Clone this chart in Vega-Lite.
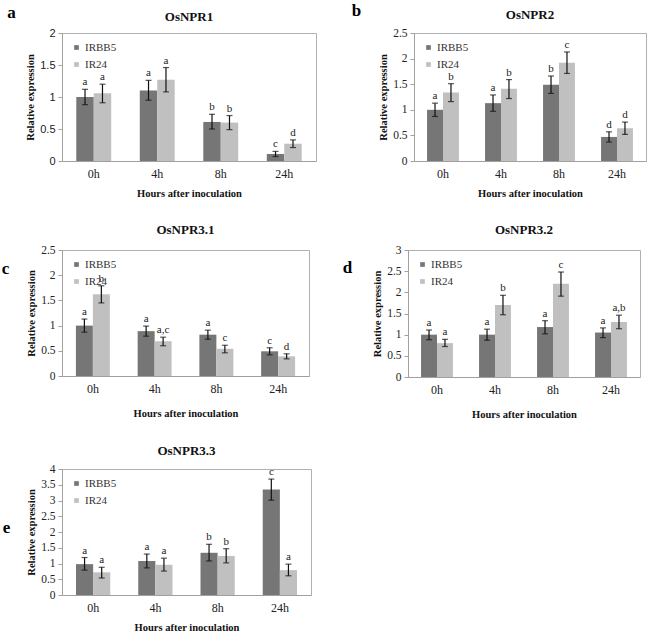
{
  "$schema": "https://vega.github.io/schema/vega-lite/v6.json",
  "padding": {"left": 0, "top": 0, "right": 0, "bottom": 0},
  "background": "white",
  "data": {"values": [
    {"gene": "OsNPR1", "hour": "0h", "cultivar": "IRBB5", "value": 1.00, "lo": 0.88, "hi": 1.12, "sig": "a"},
    {"gene": "OsNPR1", "hour": "0h", "cultivar": "IR24", "value": 1.06, "lo": 0.91, "hi": 1.20, "sig": "a"},
    {"gene": "OsNPR1", "hour": "4h", "cultivar": "IRBB5", "value": 1.10, "lo": 0.95, "hi": 1.26, "sig": "a"},
    {"gene": "OsNPR1", "hour": "4h", "cultivar": "IR24", "value": 1.27, "lo": 1.08, "hi": 1.46, "sig": "a"},
    {"gene": "OsNPR1", "hour": "8h", "cultivar": "IRBB5", "value": 0.61, "lo": 0.50, "hi": 0.73, "sig": "b"},
    {"gene": "OsNPR1", "hour": "8h", "cultivar": "IR24", "value": 0.60, "lo": 0.49, "hi": 0.71, "sig": "b"},
    {"gene": "OsNPR1", "hour": "24h", "cultivar": "IRBB5", "value": 0.11, "lo": 0.07, "hi": 0.15, "sig": "c"},
    {"gene": "OsNPR1", "hour": "24h", "cultivar": "IR24", "value": 0.27, "lo": 0.21, "hi": 0.33, "sig": "d"},
    {"gene": "OsNPR2", "hour": "0h", "cultivar": "IRBB5", "value": 1.00, "lo": 0.87, "hi": 1.13, "sig": "a"},
    {"gene": "OsNPR2", "hour": "0h", "cultivar": "IR24", "value": 1.34, "lo": 1.16, "hi": 1.51, "sig": "b"},
    {"gene": "OsNPR2", "hour": "4h", "cultivar": "IRBB5", "value": 1.13, "lo": 0.97, "hi": 1.29, "sig": "a"},
    {"gene": "OsNPR2", "hour": "4h", "cultivar": "IR24", "value": 1.41, "lo": 1.22, "hi": 1.59, "sig": "b"},
    {"gene": "OsNPR2", "hour": "8h", "cultivar": "IRBB5", "value": 1.49, "lo": 1.32, "hi": 1.66, "sig": "b"},
    {"gene": "OsNPR2", "hour": "8h", "cultivar": "IR24", "value": 1.92, "lo": 1.71, "hi": 2.13, "sig": "c"},
    {"gene": "OsNPR2", "hour": "24h", "cultivar": "IRBB5", "value": 0.47, "lo": 0.37, "hi": 0.57, "sig": "d"},
    {"gene": "OsNPR2", "hour": "24h", "cultivar": "IR24", "value": 0.64, "lo": 0.52, "hi": 0.76, "sig": "d"},
    {"gene": "OsNPR3.1", "hour": "0h", "cultivar": "IRBB5", "value": 1.00, "lo": 0.87, "hi": 1.13, "sig": "a"},
    {"gene": "OsNPR3.1", "hour": "0h", "cultivar": "IR24", "value": 1.62, "lo": 1.45, "hi": 1.79, "sig": "b"},
    {"gene": "OsNPR3.1", "hour": "4h", "cultivar": "IRBB5", "value": 0.89, "lo": 0.79, "hi": 0.99, "sig": "a"},
    {"gene": "OsNPR3.1", "hour": "4h", "cultivar": "IR24", "value": 0.69, "lo": 0.60, "hi": 0.77, "sig": "a,c"},
    {"gene": "OsNPR3.1", "hour": "8h", "cultivar": "IRBB5", "value": 0.82, "lo": 0.73, "hi": 0.91, "sig": "a"},
    {"gene": "OsNPR3.1", "hour": "8h", "cultivar": "IR24", "value": 0.54, "lo": 0.46, "hi": 0.61, "sig": "c"},
    {"gene": "OsNPR3.1", "hour": "24h", "cultivar": "IRBB5", "value": 0.49, "lo": 0.42, "hi": 0.56, "sig": "c"},
    {"gene": "OsNPR3.1", "hour": "24h", "cultivar": "IR24", "value": 0.39, "lo": 0.34, "hi": 0.44, "sig": "d"},
    {"gene": "OsNPR3.2", "hour": "0h", "cultivar": "IRBB5", "value": 1.00, "lo": 0.88, "hi": 1.11, "sig": "a"},
    {"gene": "OsNPR3.2", "hour": "0h", "cultivar": "IR24", "value": 0.80, "lo": 0.72, "hi": 0.89, "sig": "a"},
    {"gene": "OsNPR3.2", "hour": "4h", "cultivar": "IRBB5", "value": 1.00, "lo": 0.87, "hi": 1.13, "sig": "a"},
    {"gene": "OsNPR3.2", "hour": "4h", "cultivar": "IR24", "value": 1.70, "lo": 1.47, "hi": 1.93, "sig": "b"},
    {"gene": "OsNPR3.2", "hour": "8h", "cultivar": "IRBB5", "value": 1.18, "lo": 1.02, "hi": 1.33, "sig": "a"},
    {"gene": "OsNPR3.2", "hour": "8h", "cultivar": "IR24", "value": 2.20, "lo": 1.91, "hi": 2.48, "sig": "c"},
    {"gene": "OsNPR3.2", "hour": "24h", "cultivar": "IRBB5", "value": 1.05, "lo": 0.93, "hi": 1.16, "sig": "a"},
    {"gene": "OsNPR3.2", "hour": "24h", "cultivar": "IR24", "value": 1.30, "lo": 1.14, "hi": 1.46, "sig": "a,b"},
    {"gene": "OsNPR3.3", "hour": "0h", "cultivar": "IRBB5", "value": 0.98, "lo": 0.79, "hi": 1.19, "sig": "a"},
    {"gene": "OsNPR3.3", "hour": "0h", "cultivar": "IR24", "value": 0.72, "lo": 0.54, "hi": 0.88, "sig": "a"},
    {"gene": "OsNPR3.3", "hour": "4h", "cultivar": "IRBB5", "value": 1.08, "lo": 0.86, "hi": 1.30, "sig": "a"},
    {"gene": "OsNPR3.3", "hour": "4h", "cultivar": "IR24", "value": 0.96, "lo": 0.76, "hi": 1.17, "sig": "a"},
    {"gene": "OsNPR3.3", "hour": "8h", "cultivar": "IRBB5", "value": 1.34, "lo": 1.08, "hi": 1.61, "sig": "b"},
    {"gene": "OsNPR3.3", "hour": "8h", "cultivar": "IR24", "value": 1.24, "lo": 1.02, "hi": 1.47, "sig": "b"},
    {"gene": "OsNPR3.3", "hour": "24h", "cultivar": "IRBB5", "value": 3.35, "lo": 3.01, "hi": 3.68, "sig": "c"},
    {"gene": "OsNPR3.3", "hour": "24h", "cultivar": "IR24", "value": 0.79, "lo": 0.61, "hi": 0.98, "sig": "a"}
  ]},
  "config": {
    "font": "Liberation Serif",
    "view": {"stroke": "#b0b0b0", "strokeWidth": 1},
    "axis": {"labelFont": "Liberation Serif", "titleFont": "Liberation Serif", "grid": false, "domainColor": "#a0a0a0", "tickColor": "#a0a0a0", "labelColor": "#222222", "titleColor": "#111111"},
    "axisY": {"tickSize": 4, "labelFontSize": 11.5, "labelPadding": 3, "titleFontSize": 10.5, "titleFontWeight": "bold", "titlePadding": 4},
    "axisX": {"ticks": false, "labelFontSize": 12, "labelPadding": 7, "labelAngle": 0, "titleFontSize": 10.5, "titleFontWeight": "bold", "titlePadding": 9},
    "legend": {"orient": "top-left", "offset": 7, "padding": 2, "symbolType": "square", "symbolSize": 22, "symbolStrokeWidth": 0, "labelFont": "Liberation Serif", "labelFontSize": 11, "labelColor": "#333333", "rowPadding": 5, "labelOffset": 3},
    "title": {"font": "Liberation Serif", "fontSize": 13, "fontWeight": "bold", "color": "#111111", "anchor": "middle", "offset": 7},
    "text": {"font": "Liberation Serif"}
  },
  "columns": 1,
  "align": "none",
  "spacing": 24,
  "resolve": {"scale": {"x": "independent", "y": "independent", "color": "independent", "xOffset": "independent"}, "legend": {"color": "independent"}},
  "concat": [
    {
      "bounds": "flush",
      "spacing": 98,
      "resolve": {"scale": {"x": "independent", "y": "independent", "color": "independent", "xOffset": "independent"}, "legend": {"color": "independent"}},
      "hconcat": [
        {
          "width": 254, "height": 128,
          "title": {"text": "OsNPR1", "dy": 27, "offset": 6},
          "transform": [{"filter": "datum.gene === 'OsNPR1'"}],
          "encoding": {
            "x": {"field": "hour", "type": "nominal", "sort": ["0h", "4h", "8h", "24h"], "scale": {"paddingInner": 0.45, "paddingOuter": 0.225}, "axis": {"title": "Hours after inoculation"}},
            "xOffset": {"field": "cultivar", "type": "nominal", "sort": ["IRBB5", "IR24"], "scale": {"paddingInner": 0, "paddingOuter": 0}}
          },
          "layer": [
            {"mark": "bar", "encoding": {
              "y": {"field": "value", "type": "quantitative", "scale": {"domain": [0, 2], "nice": false}, "axis": {"values": [0, 0.5, 1, 1.5, 2], "format": "~g", "title": "Relative expression", "labelFont": "Liberation Sans", "labelFontSize": 11}},
              "color": {"field": "cultivar", "type": "nominal", "scale": {"domain": ["IRBB5", "IR24"], "range": ["#767676", "#c0c0c0"]}, "legend": {"title": null}}
            }},
            {"mark": {"type": "rule", "color": "#111111", "strokeWidth": 1.2}, "encoding": {
              "y": {"field": "lo", "type": "quantitative", "axis": {"orient": "left", "title": "a", "labels": false, "ticks": false, "domain": false, "titleAngle": 0, "titleX": -51, "titleY": -21, "titleFontSize": 17, "titleFontWeight": "bold", "titleAlign": "center", "titleBaseline": "middle", "titleColor": "#000000"}},
              "y2": {"field": "hi"}
            }},
            {"mark": {"type": "tick", "color": "#111111", "size": 6, "thickness": 1.2}, "encoding": {"y": {"field": "hi", "type": "quantitative", "axis": null}}},
            {"mark": {"type": "tick", "color": "#111111", "size": 6, "thickness": 1.2}, "encoding": {"y": {"field": "lo", "type": "quantitative", "axis": null}}},
            {"mark": {"type": "text", "baseline": "bottom", "dy": -2, "fontSize": 11, "color": "#222222"}, "encoding": {"y": {"field": "hi", "type": "quantitative", "axis": null}, "text": {"field": "sig"}}}
          ],
          "resolve": {"axis": {"y": "independent"}}
        },
        {
          "width": 232, "height": 128,
          "title": {"text": "OsNPR2", "dy": 27, "offset": 6},
          "transform": [{"filter": "datum.gene === 'OsNPR2'"}],
          "encoding": {
            "x": {"field": "hour", "type": "nominal", "sort": ["0h", "4h", "8h", "24h"], "scale": {"paddingInner": 0.45, "paddingOuter": 0.225}, "axis": {"title": "Hours after inoculation"}},
            "xOffset": {"field": "cultivar", "type": "nominal", "sort": ["IRBB5", "IR24"], "scale": {"paddingInner": 0, "paddingOuter": 0}}
          },
          "layer": [
            {"mark": "bar", "encoding": {
              "y": {"field": "value", "type": "quantitative", "scale": {"domain": [0, 2.5], "nice": false}, "axis": {"values": [0, 0.5, 1, 1.5, 2, 2.5], "format": "~g", "title": "Relative expression"}},
              "color": {"field": "cultivar", "type": "nominal", "scale": {"domain": ["IRBB5", "IR24"], "range": ["#767676", "#c0c0c0"]}, "legend": {"title": null}}
            }},
            {"mark": {"type": "rule", "color": "#111111", "strokeWidth": 1.2}, "encoding": {
              "y": {"field": "lo", "type": "quantitative", "axis": {"orient": "left", "title": "b", "labels": false, "ticks": false, "domain": false, "titleAngle": 0, "titleX": -58, "titleY": -23, "titleFontSize": 17, "titleFontWeight": "bold", "titleAlign": "center", "titleBaseline": "middle", "titleColor": "#000000"}},
              "y2": {"field": "hi"}
            }},
            {"mark": {"type": "tick", "color": "#111111", "size": 6, "thickness": 1.2}, "encoding": {"y": {"field": "hi", "type": "quantitative", "axis": null}}},
            {"mark": {"type": "tick", "color": "#111111", "size": 6, "thickness": 1.2}, "encoding": {"y": {"field": "lo", "type": "quantitative", "axis": null}}},
            {"mark": {"type": "text", "baseline": "bottom", "dy": -2, "fontSize": 11, "color": "#222222"}, "encoding": {"y": {"field": "hi", "type": "quantitative", "axis": null}, "text": {"field": "sig"}}}
          ],
          "resolve": {"axis": {"y": "independent"}}
        }
      ]
    },
    {
      "bounds": "flush",
      "spacing": 99,
      "resolve": {"scale": {"x": "independent", "y": "independent", "color": "independent", "xOffset": "independent"}, "legend": {"color": "independent"}},
      "hconcat": [
        {
          "width": 247, "height": 126,
          "title": {"text": "OsNPR3.1"},
          "transform": [{"filter": "datum.gene === 'OsNPR3.1'"}],
          "encoding": {
            "x": {"field": "hour", "type": "nominal", "sort": ["0h", "4h", "8h", "24h"], "scale": {"paddingInner": 0.45, "paddingOuter": 0.225}, "axis": {"title": "Hours after inoculation", "titlePadding": 14}},
            "xOffset": {"field": "cultivar", "type": "nominal", "sort": ["IRBB5", "IR24"], "scale": {"paddingInner": 0, "paddingOuter": 0}}
          },
          "layer": [
            {"mark": "bar", "encoding": {
              "y": {"field": "value", "type": "quantitative", "scale": {"domain": [0, 2.5], "nice": false}, "axis": {"values": [0, 0.5, 1, 1.5, 2, 2.5], "format": "~g", "title": "Relative expression"}},
              "color": {"field": "cultivar", "type": "nominal", "scale": {"domain": ["IRBB5", "IR24"], "range": ["#767676", "#c0c0c0"]}, "legend": {"title": null}}
            }},
            {"mark": {"type": "rule", "color": "#111111", "strokeWidth": 1.2}, "encoding": {
              "y": {"field": "lo", "type": "quantitative", "axis": {"orient": "left", "title": "c", "labels": false, "ticks": false, "domain": false, "titleAngle": 0, "titleX": -57, "titleY": 18, "titleFontSize": 17, "titleFontWeight": "bold", "titleAlign": "center", "titleBaseline": "middle", "titleColor": "#000000"}},
              "y2": {"field": "hi"}
            }},
            {"mark": {"type": "tick", "color": "#111111", "size": 6, "thickness": 1.2}, "encoding": {"y": {"field": "hi", "type": "quantitative", "axis": null}}},
            {"mark": {"type": "tick", "color": "#111111", "size": 6, "thickness": 1.2}, "encoding": {"y": {"field": "lo", "type": "quantitative", "axis": null}}},
            {"mark": {"type": "text", "baseline": "bottom", "dy": -2, "fontSize": 11, "color": "#222222"}, "encoding": {"y": {"field": "hi", "type": "quantitative", "axis": null}, "text": {"field": "sig"}}}
          ],
          "resolve": {"axis": {"y": "independent"}}
        },
        {
          "width": 232, "height": 127,
          "title": {"text": "OsNPR3.2"},
          "transform": [{"filter": "datum.gene === 'OsNPR3.2'"}],
          "encoding": {
            "x": {"field": "hour", "type": "nominal", "sort": ["0h", "4h", "8h", "24h"], "scale": {"paddingInner": 0.45, "paddingOuter": 0.225}, "axis": {"title": "Hours after inoculation", "titlePadding": 14}},
            "xOffset": {"field": "cultivar", "type": "nominal", "sort": ["IRBB5", "IR24"], "scale": {"paddingInner": 0, "paddingOuter": 0}}
          },
          "layer": [
            {"mark": "bar", "encoding": {
              "y": {"field": "value", "type": "quantitative", "scale": {"domain": [0, 3], "nice": false}, "axis": {"values": [0, 0.5, 1, 1.5, 2, 2.5, 3], "format": "~g", "title": "Relative expression"}},
              "color": {"field": "cultivar", "type": "nominal", "scale": {"domain": ["IRBB5", "IR24"], "range": ["#767676", "#c0c0c0"]}, "legend": {"title": null}}
            }},
            {"mark": {"type": "rule", "color": "#111111", "strokeWidth": 1.2}, "encoding": {
              "y": {"field": "lo", "type": "quantitative", "axis": {"orient": "left", "title": "d", "labels": false, "ticks": false, "domain": false, "titleAngle": 0, "titleX": -61, "titleY": 17, "titleFontSize": 17, "titleFontWeight": "bold", "titleAlign": "center", "titleBaseline": "middle", "titleColor": "#000000"}},
              "y2": {"field": "hi"}
            }},
            {"mark": {"type": "tick", "color": "#111111", "size": 6, "thickness": 1.2}, "encoding": {"y": {"field": "hi", "type": "quantitative", "axis": null}}},
            {"mark": {"type": "tick", "color": "#111111", "size": 6, "thickness": 1.2}, "encoding": {"y": {"field": "lo", "type": "quantitative", "axis": null}}},
            {"mark": {"type": "text", "baseline": "bottom", "dy": -2, "fontSize": 11, "color": "#222222"}, "encoding": {"y": {"field": "hi", "type": "quantitative", "axis": null}, "text": {"field": "sig"}}}
          ],
          "resolve": {"axis": {"y": "independent"}}
        }
      ]
    },
    {
      "width": 249, "height": 126,
      "title": {"text": "OsNPR3.3", "offset": 5},
      "transform": [{"filter": "datum.gene === 'OsNPR3.3'"}],
      "encoding": {
        "x": {"field": "hour", "type": "nominal", "sort": ["0h", "4h", "8h", "24h"], "scale": {"paddingInner": 0.45, "paddingOuter": 0.225}, "axis": {"title": "Hours after inoculation"}},
        "xOffset": {"field": "cultivar", "type": "nominal", "sort": ["IRBB5", "IR24"], "scale": {"paddingInner": 0, "paddingOuter": 0}}
      },
      "layer": [
        {"mark": "bar", "encoding": {
          "y": {"field": "value", "type": "quantitative", "scale": {"domain": [0, 4], "nice": false}, "axis": {"values": [0, 0.5, 1, 1.5, 2, 2.5, 3, 3.5, 4], "format": "~g", "title": "Relative expression"}},
          "color": {"field": "cultivar", "type": "nominal", "scale": {"domain": ["IRBB5", "IR24"], "range": ["#767676", "#c0c0c0"]}, "legend": {"title": null}}
        }},
        {"mark": {"type": "rule", "color": "#111111", "strokeWidth": 1.2}, "encoding": {
          "y": {"field": "lo", "type": "quantitative", "axis": {"orient": "left", "title": "e", "labels": false, "ticks": false, "domain": false, "titleAngle": 0, "titleX": -56, "titleY": 58, "titleFontSize": 17, "titleFontWeight": "bold", "titleAlign": "center", "titleBaseline": "middle", "titleColor": "#000000"}},
          "y2": {"field": "hi"}
        }},
        {"mark": {"type": "tick", "color": "#111111", "size": 6, "thickness": 1.2}, "encoding": {"y": {"field": "hi", "type": "quantitative", "axis": null}}},
        {"mark": {"type": "tick", "color": "#111111", "size": 6, "thickness": 1.2}, "encoding": {"y": {"field": "lo", "type": "quantitative", "axis": null}}},
        {"mark": {"type": "text", "baseline": "bottom", "dy": -2, "fontSize": 11, "color": "#222222"}, "encoding": {"y": {"field": "hi", "type": "quantitative", "axis": null}, "text": {"field": "sig"}}}
      ],
      "resolve": {"axis": {"y": "independent"}}
    }
  ]
}
